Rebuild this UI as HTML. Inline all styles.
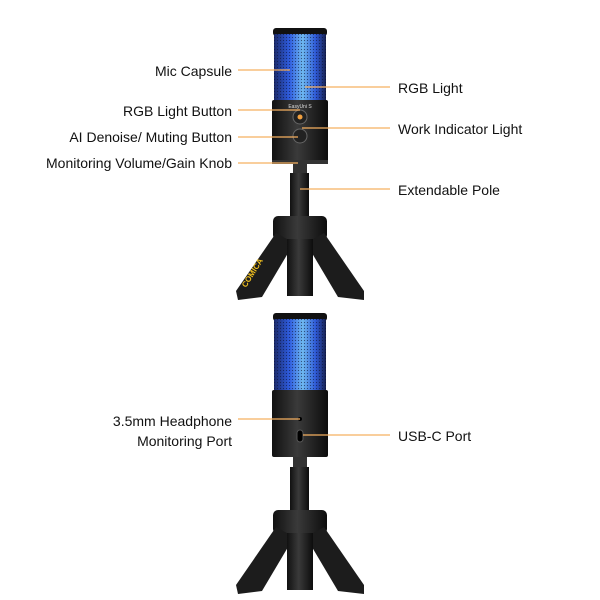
<!DOCTYPE html>
<html><head><meta charset="utf-8"><style>
html,body{margin:0;padding:0;background:#fff;}
svg{display:block;}
text{font-family:"Liberation Sans",Arial,sans-serif;font-size:14px;fill:#111;}
</style></head><body>
<svg width="600" height="600" viewBox="0 0 600 600" xmlns="http://www.w3.org/2000/svg">
<defs>
<linearGradient id="head" x1="0" x2="1" y1="0" y2="0">
<stop offset="0" stop-color="#1b2a6a"/><stop offset="0.3" stop-color="#2f5de0"/><stop offset="0.55" stop-color="#6fb8f0"/><stop offset="0.8" stop-color="#2f5ad8"/><stop offset="1" stop-color="#16204f"/>
</linearGradient>
<pattern id="hex" width="3" height="3" patternUnits="userSpaceOnUse">
<rect width="3" height="3" fill="none"/><circle cx="1.5" cy="1.5" r="0.6" fill="#0a1030" opacity="0.6"/>
</pattern>
<linearGradient id="body" x1="0" x2="1" y1="0" y2="0">
<stop offset="0" stop-color="#111"/><stop offset="0.45" stop-color="#3a3a3a"/><stop offset="1" stop-color="#0c0c0c"/>
</linearGradient>
<g id="stand">
<rect x="293" y="0" width="14" height="12" fill="#333"/>
<rect x="290" y="10" width="19" height="45" fill="url(#body)"/>
<rect x="273" y="53" width="54" height="24" rx="5" fill="url(#body)"/>
<path d="M276 70 L294 80 L262 134 L238 137 L236 128 Z" fill="#1c1c1c"/>
<path d="M324 70 L306 80 L338 134 L364 137 L364 128 Z" fill="#1c1c1c"/>
<rect x="287" y="76" width="26" height="57" fill="url(#body)"/>
</g>
</defs>

<rect x="273" y="28" width="54" height="8" rx="3" fill="#111"/>
<rect x="274" y="34" width="52" height="66" fill="url(#head)"/>
<rect x="274" y="34" width="52" height="66" fill="url(#hex)"/>
<rect x="272" y="100" width="56" height="64" rx="2" fill="url(#body)"/>
<text x="300" y="108" style="font-size:5px;fill:#ddd" text-anchor="middle">EasyUni S</text>
<circle cx="300" cy="117" r="7" fill="#222" stroke="#666"/>
<circle cx="300" cy="117" r="2.5" fill="#f0a040"/>
<circle cx="300" cy="136" r="7" fill="#222" stroke="#666"/>
<rect x="272" y="160" width="56" height="4" fill="#333"/>
<use href="#stand" y="163"/>
<text x="246" y="288" transform="rotate(-58 246 288)" style="font-size:8px;fill:#f0c020;font-weight:bold">COMICA</text>

<rect x="273" y="313" width="54" height="8" rx="3" fill="#111"/>
<rect x="274" y="319" width="52" height="71" fill="url(#head)"/>
<rect x="274" y="319" width="52" height="71" fill="url(#hex)"/>
<rect x="272" y="390" width="56" height="67" rx="2" fill="url(#body)"/>
<circle cx="300" cy="419" r="2" fill="#000"/>
<rect x="297" y="430" width="6" height="12" rx="3" fill="#000" stroke="#555"/>
<use href="#stand" y="457"/>

<g stroke="#f5b060" stroke-width="1.3">
<line x1="238" y1="70" x2="290" y2="70"/>
<line x1="238" y1="110" x2="300" y2="110"/>
<line x1="238" y1="137" x2="298" y2="137"/>
<line x1="238" y1="163" x2="298" y2="163"/>
<line x1="305" y1="87" x2="390" y2="87"/>
<line x1="302" y1="128" x2="390" y2="128"/>
<line x1="300" y1="189" x2="390" y2="189"/>
<line x1="238" y1="419" x2="300" y2="419"/>
<line x1="303" y1="435" x2="390" y2="435"/>
</g>

<g text-anchor="end">
<text x="232" y="76">Mic Capsule</text>
<text x="232" y="116">RGB Light Button</text>
<text x="232" y="142">AI Denoise/ Muting Button</text>
<text x="232" y="168">Monitoring Volume/Gain Knob</text>
<text x="232" y="426">3.5mm Headphone</text>
<text x="232" y="446">Monitoring Port</text>
</g>
<text x="398" y="93">RGB Light</text>
<text x="398" y="134">Work Indicator Light</text>
<text x="398" y="195">Extendable Pole</text>
<text x="398" y="441">USB-C Port</text>
</svg>
</body></html>
